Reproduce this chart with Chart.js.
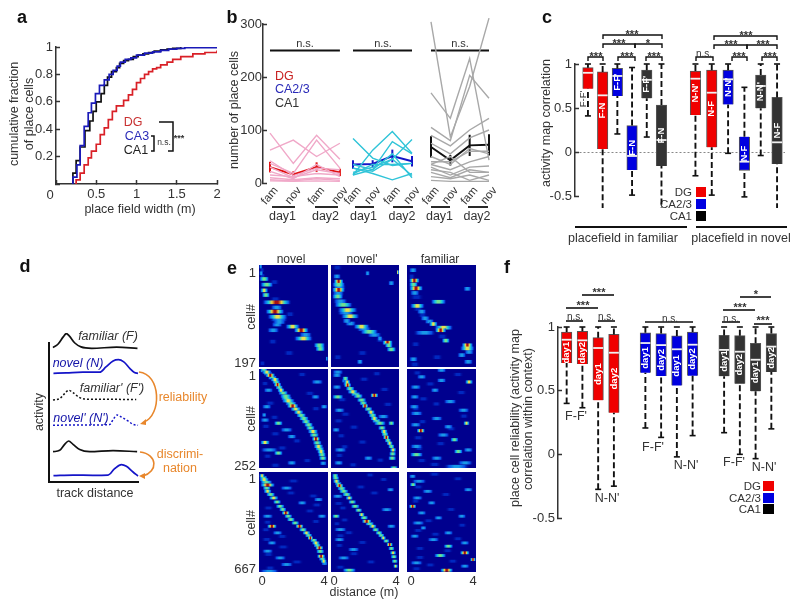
<!DOCTYPE html>
<html>
<head>
<meta charset="utf-8">
<style>
  html, body { margin: 0; padding: 0; background: #fff; }
  #page { position: relative; width: 800px; height: 607px; overflow: hidden; filter: blur(0.35px); }
  canvas { position: absolute; }
  canvas.heat { filter: blur(0.6px); }
  #overlay { position: absolute; left: 0; top: 0; pointer-events: none; }
  #overlay text { font-family: "Liberation Sans", Arial, sans-serif; fill: #333; }
</style>
</head>
<body>
<div id="page"><svg id="overlay" width="800" height="607" xmlns="http://www.w3.org/2000/svg"></svg></div>
<script src="https://cdn.jsdelivr.net/npm/chart.js@4"></script>
<script>
// a: cumulative fraction
const cdfRedX = [0.25,0.3,0.35,0.4,0.44,0.5,0.55,0.6,0.65,0.7,0.75,0.84,0.9,0.95,1,1.05,1.1,1.15,1.2,1.25,1.3,1.38,1.45,1.55,1.7,1.85,2];
const cdfRedY = [0.03,0.08,0.14,0.19,0.24,0.29,0.36,0.41,0.47,0.53,0.57,0.61,0.65,0.69,0.74,0.77,0.8,0.82,0.84,0.85,0.87,0.89,0.91,0.93,0.95,0.96,0.975];
const cdfBlueX = [0.21,0.26,0.3,0.35,0.4,0.44,0.49,0.54,0.6,0.66,0.71,0.76,0.8,0.86,0.93,1,1.1,1.2,1.3,1.4,1.5,1.6,2];
const cdfBlueY = [0.05,0.14,0.28,0.42,0.52,0.59,0.66,0.72,0.76,0.8,0.83,0.86,0.89,0.91,0.92,0.94,0.955,0.965,0.975,0.985,0.99,0.995,0.995];
const cdfBlackX = [0.21,0.25,0.3,0.36,0.42,0.46,0.5,0.56,0.6,0.64,0.69,0.75,0.79,0.84,0.9,0.96,1.02,1.08,1.15,1.22,1.3,1.38,1.45,1.55];
const cdfBlackY = [0.08,0.17,0.27,0.39,0.46,0.53,0.6,0.66,0.72,0.78,0.82,0.85,0.88,0.9,0.91,0.93,0.94,0.95,0.96,0.97,0.98,0.985,0.99,1];

// b: number of place cells per session
const sessionLabels = ["fam", "nov", "fam", "nov"];
const dgAnimals = [[94,37,90,45],[62,81,50,75],[37,18,81,28],[42,14,28,25],[30,10,25,18],[15,12,18,15],[10,6,10,8],[6,4,8,5],[4,3,4,3],[22,8,35,12]];
const dgMean = [30,16,30,20];
const dgErr = [10,6,9,7];
const ca3Animals = [[84,47,33,37],[15,62,97,56],[15,25,78,55],[28,18,6,18],[20,30,45,82],[17,35,35,37],[35,25,55,10],[28,22,45,14]];
const ca3Mean = [35,36,51,41];
const ca3Err = [8,7,12,10];
const ca1Animals = [[304,87,182,311],[170,122,235,43],[105,80,203,160],[90,70,100,122],[75,55,85,100],[50,35,65,55],[40,40,60,60],[35,25,40,50],[30,15,30,32],[25,20,5,15],[20,10,25,20],[12,8,15,5],[5,3,3,3],[35,50,20,20]];
const ca1Mean = [68,43,71,72];
const ca1Err = [20,10,20,20];

// c: activity map correlation boxes
const corrLabels = ["", "F-N", "F-F'", "F-N", "F-F'", "F-N", "N-N'", "N-F", "N-N'", "N-F", "N-N'", "N-F"];
const corrLow = [0.41,-0.65,0.205,-0.49,0.17,-0.8,-0.27,-0.49,-0.015,-0.51,-0.04,-0.65];
const corrQ1 = [0.72,0.034,0.636,-0.205,0.61,-0.16,0.42,0.053,0.54,-0.21,0.496,-0.136];
const corrMed = [0.9,0.644,0.864,-0.045,0.82,0.136,0.833,0.674,0.826,-0.11,0.75,0.11];
const corrQ3 = [0.958,0.91,0.95,0.3,0.93,0.534,0.92,0.93,0.93,0.174,0.875,0.62];
const corrHigh = [1,1,1,0.96,1,1,1,1,1,0.735,1,1];
const corrColors = ["#f00000","#f00000","#0000e0","#0000e0","#333333","#333333","#f00000","#f00000","#0000e0","#0000e0","#333333","#333333"];

// d: schematic tuning curves
const curveF = [[4.5,96.7],[10,99.1],[16,104.4],[19.5,106.8],[23,104.9],[29,100],[36,97.2],[48,96.2],[76,97],[99.4,96.2]];
const curveN = [[5,78.2],[19.5,78.5],[38,79],[57,79],[64,82.8],[72,87.1],[78,88],[84,86.4],[91,81.6],[96,78.7],[100,78.2]];
const curveF2 = [[4.5,59],[12,60],[17.6,63.6],[22,66],[27,64.3],[34.5,60.7],[45.7,59.5],[68,59.5],[98,59.3]];
const curveN2 = [[4.5,40.8],[27,41],[49.4,41],[68,41.3],[72.7,45.6],[76.4,48.2],[81.3,46.8],[88.8,43.9],[94.4,41.5],[100,40.8]];
const curveF3 = [[4.5,21.8],[12,22.8],[17.6,27.1],[22,29.5],[27,27.1],[34.5,23.3],[45.7,21.8],[72,22.6],[99,21.8]];
const curveN3 = [[5,4.6],[27,5],[49.4,4.8],[66.3,5],[73.8,9.6],[81.3,12.5],[87,11.3],[94.4,7.2],[100,4.3]];

// e: heat map streaks, [cell, start m, end m, level]
const heatDgNovel = [[10,0,0.35,0],[21,0,0.4,0],[33,0.6,1.2,0],[66,0.6,1.3,0],[95,1.5,2.1,0],[105,0.6,1.7,1],[115,0.7,1.4,1],[135,2.3,3.1,1],[148,0.5,1.1,0],[170,1.4,2.1,0],[190,0,0.4,0],[3,0,0.2,1],[16,0,0.25,1],[27,0,0.6,2],[38,0.05,0.85,2],[49,0.05,0.55,3],[58,0.15,0.65,2],[72,0.15,1.9,4],[82,0.65,1.4,1],[90,0.35,1.5,4],[100,0.45,1.7,3],[110,0.75,1.6,1],[119,1.5,2.4,3],[126,2,2.9,4],[142,2,3.15,3],[155,3.15,3.85,2],[162,3.25,3.85,2],[181,3.85,4,1],[126,0.45,1.2,1]];
const heatDgNovel2 = [[5,0.05,0.7,0],[22,0.1,0.6,1],[43,0.1,0.9,1],[55,0.05,0.8,1],[70,0.1,1,1],[92,0.35,1.4,1],[113,0.8,1.5,1],[124,1.5,2.4,1],[135,2.1,3,1],[145,2.6,3.2,0],[170,1.5,2.2,0],[178,0.1,0.7,0],[32,0.15,0.75,4],[38,0.05,0.85,2],[48,0.05,0.85,4],[61,0.05,0.75,2],[77,0.15,1.3,2],[87,0.35,1.6,3],[99,0.55,1.7,3],[108,0.65,1.2,1],[119,1.3,2.3,3],[129,1.7,2.8,2],[150,3,3.65,4],[155,3.15,3.65,2],[163,3.25,3.85,2],[16,2,2.3,1],[35,3.35,3.75,1],[187,1.5,1.9,1],[142,2.7,3.05,1],[14,3.85,4,3]];
const heatDgFamiliar = [[10,0.1,0.6,1],[22,0.05,0.5,0],[62,0.1,1,0],[85,0.3,1,0],[97,0.6,1.2,0],[109,1,1.6,1],[138,1.7,2.4,0],[153,0.2,0.8,0],[168,3.3,3.9,1],[178,1.4,2.1,0],[192,0.1,0.8,0],[30,0.1,0.75,4],[38,0.1,0.65,2],[45,0.1,0.95,4],[54,0.15,0.75,1],[71,1.35,2.3,2],[79,0.15,1.05,3],[90,0.55,1.15,1],[103,0.75,1.35,1],[114,1.25,1.8,3],[121,1.55,2.7,3],[126,1.6,2.3,4],[131,0.35,1.7,1],[146,2,2.5,2],[155,3.15,3.85,4],[161,3.05,3.95,3],[174,2.9,3.45,1],[182,0.1,0.65,1],[46,3.25,3.75,1],[187,3.25,3.85,1]];
const heatCa3Novel = [[14,2.2,2.8,0],[37,0.1,0.6,0],[62,2.6,3.3,0],[87,0.3,1,0],[101,3,3.6,0],[123,0.6,1.2,0],[146,0.1,0.7,0],[165,0.6,1.3,0],[183,1.9,2.5,0],[201,1,1.7,0],[222,0.2,0.8,0],[233,2.5,3.1,0],[245,0.6,1.3,0],[4,0.05,0.5,2],[12,0.25,0.8,2],[22,0.5,1.05,2],[33,0.75,1.25,2],[47,0.95,1.4,2],[61,1.1,1.7,2],[75,1.25,1.95,2],[88,1.5,2.2,2],[102,1.8,2.45,3],[118,2.15,2.75,2],[134,2.45,3,2],[150,2.7,3.25,2],[168,2.9,3.5,2],[188,3.1,3.65,2],[203,3.25,3.8,2],[218,3.4,3.9,2],[240,3.5,3.95,1],[8,0.15,0.75,3],[16,0.35,0.95,4],[27,0.65,1.2,3],[40,0.85,1.3,4],[54,1.05,1.5,3],[69,1.2,1.9,2],[81,1.3,2.1,3],[94,1.6,2.3,4],[110,2,2.6,3],[126,2.3,2.9,2],[142,2.6,3.15,2],[159,2.8,3.45,3],[178,3.05,3.55,4],[197,3.15,3.75,3],[210,3.35,3.85,3],[227,3.45,3.95,2],[54,0.25,0.85,1],[96,0.15,0.75,1],[117,0.15,0.45,1],[155,1.2,2,1],[187,0.05,0.65,3],[206,0.05,1.15,1],[239,1.6,2.2,1],[130,0.05,0.65,1],[172,1.6,2.2,1],[71,3,3.55,1],[33,3,3.75,1],[96,3.55,4,1],[214,0.85,1.4,2],[138,0.85,1.4,2]];
const heatCa3Novel2 = [[12,2.4,3,0],[26,1.6,2.3,0],[52,2.8,3.5,0],[78,0.3,1,0],[90,3,3.7,0],[115,0.5,1.2,0],[132,0.1,0.8,0],[148,1,1.7,0],[170,0.3,0.9,0],[186,1.5,2.2,0],[198,0.5,1.1,0],[220,0.2,0.8,0],[232,2.6,3.2,0],[244,1,1.6,0],[30,0.6,1,1],[37,0.7,1.15,2],[50,0.85,1.4,2],[64,1.15,1.75,2],[87,1.65,2.15,2],[102,1.95,2.45,2],[118,2.2,2.7,2],[132,2.4,2.95,2],[150,2.75,3.25,2],[166,2.95,3.4,2],[182,3.15,3.55,2],[197,3.35,3.75,2],[216,3.4,3.85,2],[24,0.65,1.05,2],[33,0.75,1.15,3],[41,0.75,1.2,4],[58,0.95,1.6,3],[69,1.3,1.9,2],[79,1.5,2.1,2],[94,1.8,2.2,4],[110,2.1,2.6,3],[126,2.3,2.8,3],[138,2.5,3.25,2],[159,2.9,3.35,3],[174,3.05,3.45,4],[189,3.25,3.65,3],[206,3.45,3.85,3],[227,3.35,3.85,2],[8,0.05,0.75,1],[16,0.05,0.65,1],[46,0.05,0.65,1],[71,0.05,0.75,2],[105,0.15,0.85,1],[121,2.7,3.45,1],[155,0.05,0.55,1],[206,0.15,0.95,1],[239,0.15,0.75,1],[252,3.45,3.95,2],[227,1.9,2.5,1],[67,2.3,2.8,4],[138,3.35,3.75,2]];
const heatCa3Familiar = [[10,0.3,0.9,0],[14,2.6,3.3,0],[38,1,1.7,0],[60,2.8,3.5,0],[76,0.6,1.3,0],[89,1.4,2,0],[101,0.2,0.8,0],[120,3,3.6,0],[134,0.6,1.2,0],[152,2.2,2.9,0],[175,0.3,1,0],[190,1.6,2.3,0],[202,0.4,1,0],[233,0.5,1.2,0],[243,1.2,2,0],[20,0.55,1.15,1],[29,1.7,2.3,1],[33,3.35,3.85,3],[46,0.15,0.85,1],[54,1.35,1.9,1],[71,0.15,0.75,1],[83,2.1,2.9,1],[96,0.1,0.75,1],[113,0.15,0.95,1],[126,1.35,2.1,1],[138,3.25,3.65,3],[142,0.15,0.85,1],[157,0.55,1.05,4],[168,1.7,2.5,1],[180,2.5,3,2],[197,0.15,0.95,1],[210,2.7,3.25,2],[206,3.25,3.85,1],[227,1.35,2.1,1],[248,2.1,3.65,1],[3,1.7,2.3,1],[105,2.9,3.65,1],[147,2.1,2.7,1],[218,0.15,0.95,2],[239,2.9,3.85,1]];
const heatCa1Novel = [[60,1.6,2.4,0],[140,1.5,2.2,0],[160,2.8,3.5,0],[240,0.2,0.9,0],[260,2.6,3.3,0],[335,0.2,0.8,0],[385,0.1,0.7,0],[430,1,1.7,0],[450,0.1,0.8,0],[500,1,1.8,0],[550,0.2,0.9,0],[600,1.8,2.6,0],[640,0.3,1,0],[220,3,3.7,0],[330,3,3.6,0],[38,0,0.5,2],[68,0.05,0.8,2],[108,0.2,0.7,2],[150,0.4,0.95,2],[200,0.8,1.3,2],[250,1.15,1.6,2],[295,1.45,1.95,2],[340,1.85,2.35,2],[385,2.3,2.8,2],[423,2.65,3.1,2],[456,2.95,3.4,2],[490,3.15,3.6,2],[530,3.3,3.8,2],[580,3.45,3.9,2],[610,3.6,4,1],[24,0,0.35,3],[51,0,0.6,3],[87,0.05,0.95,4],[129,0.25,0.75,3],[173,0.55,1.15,3],[229,0.95,1.5,2],[273,1.3,1.8,4],[317,1.6,2.1,2],[362,2.1,2.6,4],[406,2.5,3,3],[440,2.8,3.15,4],[473,3.05,3.55,3],[506,3.25,3.75,4],[562,3.35,3.85,4],[595,3.55,3.95,3],[107,1.2,2,1],[184,3.15,3.75,1],[295,0.15,0.85,1],[362,0.45,1.05,4],[406,0.75,1.4,1],[473,0.45,1.05,1],[528,0.15,0.85,1],[617,1.2,2,1],[662,0,1.2,1],[206,2.2,2.8,1],[295,3.35,3.95,1],[573,0.85,1.6,1]];
const heatCa1Novel2 = [[20,2,2.6,0],[50,2.8,3.4,0],[100,1.4,2.1,0],[140,2.2,2.9,0],[210,0.1,0.8,0],[240,0.4,1,0],[320,0.5,1.1,0],[345,0.1,0.6,0],[405,0.7,1.4,0],[425,0.2,0.9,0],[470,1.5,2.2,0],[490,0.2,0.8,0],[545,1,1.7,0],[600,2,2.7,0],[635,0.2,0.9,0],[40,0.05,0.5,2],[78,0.2,0.65,2],[110,0.35,0.9,2],[150,0.65,1.2,2],[200,1,1.5,2],[255,1.4,1.85,2],[305,1.7,2.2,2],[345,2,2.55,2],[385,2.4,2.85,2],[423,2.75,3.15,2],[460,3.05,3.45,2],[510,3.35,3.75,2],[565,3.5,3.9,2],[24,0.05,0.45,2],[62,0.1,0.55,3],[91,0.25,0.75,4],[129,0.45,1.05,2],[173,0.85,1.3,3],[229,1.15,1.7,2],[284,1.6,2,3],[329,1.8,2.4,4],[362,2.2,2.7,3],[406,2.6,3.05,2],[440,2.9,3.25,3],[484,3.25,3.65,4],[539,3.45,3.85,3],[595,3.55,3.95,2],[628,3.65,3.95,3],[118,3.25,3.75,1],[162,0.05,0.75,1],[295,0.05,0.55,2],[384,0.15,0.95,1],[451,0.15,0.85,1],[517,0.95,1.7,1],[573,0.35,1.15,1],[655,0.65,1.5,2],[251,2.9,3.65,1],[362,3.25,3.85,1]];
const heatCa1Familiar = [[15,1.2,2,0],[45,2.6,3.3,0],[100,0.3,1,0],[150,1.9,2.6,0],[195,0.2,0.8,0],[250,2.2,2.9,0],[325,0.9,1.6,0],[355,2.9,3.5,0],[390,0.3,1,0],[415,1.3,2,0],[445,2.6,3.3,0],[510,0.4,1.1,0],[525,2,2.7,0],[570,0.4,1.1,0],[595,2.3,3,0],[620,1,1.7,0],[645,0.2,0.9,0],[29,0.1,0.55,1],[62,0.25,1.15,1],[84,0.15,0.55,2],[129,0.85,1.55,1],[173,0.25,0.95,1],[229,0.1,0.55,4],[206,1.15,1.7,1],[273,0.55,1.15,1],[306,1.55,2.1,1],[340,0.25,1.05,1],[373,0.75,1.15,1],[406,2.1,2.7,1],[428,0.15,0.75,1],[473,3.05,3.65,1],[495,2.1,2.7,2],[539,3.05,3.65,4],[557,1.55,2.3,2],[584,3.65,4,4],[606,0.15,0.95,1],[655,1.9,2.7,4],[628,3.05,3.65,1],[451,1.15,1.9,1],[295,2.9,3.45,1],[118,3.25,3.85,1]];

// f: reliability boxes
const reliLabels = ["day1","day2","day1","day2","day1","day2","day1","day2","day1","day2","day1","day2"];
const reliLow = [0.4,0.366,-0.275,-0.25,0.207,0.133,-0.02,0.147,0.17,0,-0.034,0.2];
const reliQ1 = [0.717,0.71,0.424,0.327,0.64,0.615,0.54,0.618,0.613,0.555,0.495,0.647];
const reliMed = [0.9,0.895,0.835,0.798,0.874,0.858,0.825,0.861,0.82,0.806,0.743,0.846];
const reliQ3 = [0.96,0.966,0.916,0.942,0.955,0.948,0.93,0.96,0.934,0.932,0.872,0.948];
const reliHigh = [1,1,1,1,1,1,1,1,1,1,1,1];
const reliColors = ["#f00000","#f00000","#f00000","#f00000","#0000e0","#0000e0","#0000e0","#0000e0","#333333","#333333","#333333","#333333"];

Chart.defaults.font.family = '"Liberation Sans", Arial, sans-serif';
Chart.defaults.font.size = 13;
Chart.defaults.color = "#333";
Chart.defaults.animation = false;
Chart.defaults.responsive = false;
Chart.defaults.plugins.legend.display = false;
Chart.defaults.plugins.tooltip.enabled = false;

const page = document.querySelector("#page");
const overlay = document.querySelector("#overlay");
const AXIS = "#333";
const TEXT_SIZE = 12.5;

// chart box is the plot area in page pixels, the margins hold the axes
const addChart = (box, margin, config, className) => {
  const canvas = document.createElement("canvas");
  canvas.width = box.w + margin.l + margin.r;
  canvas.height = box.h + margin.t + margin.b;
  canvas.style.left = box.x - margin.l + "px";
  canvas.style.top = box.y - margin.t + "px";
  if (className) canvas.className = className;
  page.appendChild(canvas);
  config.options.layout = { padding: { top: margin.t, right: margin.r, left: 0, bottom: 0 } };
  const fitTo = (scale, size) => {
    scale.afterFit = (s) => {
      if (s.axis === "x") s.height = size; else s.width = size;
      s.paddingLeft = s.paddingRight = s.paddingTop = s.paddingBottom = 0;
    };
  };
  fitTo(config.options.scales.x, margin.b);
  fitTo(config.options.scales.y, margin.l);
  return new Chart(canvas, config);
};

const hiddenAxis = (min, max) => ({
  type: "linear", min, max, offset: false,
  ticks: { display: false }, grid: { display: false }, border: { display: false },
});

const inwardAxis = (min, max, step, extra) => ({
  type: "linear", min, max, offset: false,
  ticks: { stepSize: step, padding: 7, autoSkip: false, ...(extra || {}) },
  grid: { drawOnChartArea: false, tickLength: -4, tickColor: AXIS, tickWidth: 1.5 },
  border: { color: AXIS, width: 1.5 },
});

const toPoints = (xs, ys) => xs.map((x, i) => ({ x, y: ys[i] }));

// svg text and line helpers
const svgNode = (name, attrs, text) => {
  const node = document.createElementNS("http://www.w3.org/2000/svg", name);
  Object.keys(attrs).forEach((k) => node.setAttribute(k, attrs[k]));
  if (text !== undefined) node.textContent = text;
  overlay.appendChild(node);
  return node;
};

const label = (x, y, text, opts = {}) => {
  const attrs = {
    x, y,
    "text-anchor": opts.anchor || "middle",
    "dominant-baseline": "central",
    "font-size": opts.size || TEXT_SIZE,
  };
  if (opts.rotate) attrs.transform = `rotate(${opts.rotate} ${x} ${y})`;
  if (opts.bold) attrs["font-weight"] = "bold";
  if (opts.italic) attrs["font-style"] = "italic";
  const node = svgNode("text", attrs, text);
  node.style.fill = opts.color || "#333";
};

const stroke = (d, width, color) => svgNode("path", { d, fill: "none", stroke: color || "#111", "stroke-width": width });

// ---- a ----
const cdfLine = (xs, ys, color) => ({
  data: [{ x: xs[0], y: 0 }, ...toPoints(xs, ys)],
  borderColor: color, borderWidth: 1.7, pointRadius: 0, stepped: true,
});
addChart({ x: 56, y: 47, w: 161, h: 137 }, { l: 50, r: 10, t: 10, b: 22 }, {
  type: "line",
  data: { datasets: [cdfLine(cdfRedX, cdfRedY, "#d92027"), cdfLine(cdfBlueX, cdfBlueY, "#1a1ab8"), cdfLine(cdfBlackX, cdfBlackY, "#111")] },
  options: {
    scales: {
      x: inwardAxis(0, 2, 0.5, { callback: (v) => (v === 0 ? "" : v), maxRotation: 0 }),
      y: inwardAxis(0, 1, 0.2, { callback: (v) => (v === 0 ? "" : Number(v.toFixed(1))) }),
    },
  },
});

// ---- b ----
const sessionAxis = (min, max) => ({
  type: "linear", min, max, offset: false,
  afterBuildTicks: (s) => { s.ticks = [0, 1, 2, 3].map((value) => ({ value })); },
  ticks: {
    autoSkip: false, minRotation: 50, maxRotation: 50, padding: -7, labelOffset: 6,
    font: { size: 11.5 }, callback: (v) => sessionLabels[v],
  },
  grid: { display: false }, border: { display: false },
});

const animalChart = (box, xMin, xMax, animals, mean, err, faint, strong, yAxis) => {
  const datasets = animals.map((row) => ({
    data: row.map((y, x) => ({ x, y })), borderColor: faint, borderWidth: 1.4, pointRadius: 0,
  }));
  datasets.push({ data: mean.map((y, x) => ({ x, y })), borderColor: strong, borderWidth: 2, pointRadius: 0 });
  mean.forEach((y, x) => {
    datasets.push({ data: [{ x, y: y - err[x] }, { x, y: y + err[x] }], borderColor: strong, borderWidth: 2, pointRadius: 0 });
  });
  datasets.push({ data: [{ x: 0, y: 250 }, { x: 3, y: 250 }], borderColor: "#111", borderWidth: 2, pointRadius: 0 });
  datasets.forEach((d) => { d.clip = false; });
  addChart(box, { l: 30, r: 12, t: 10, b: 40 }, {
    type: "line",
    data: { datasets },
    options: {
      scales: {
        x: sessionAxis(xMin, xMax),
        y: yAxis ? inwardAxis(0, 300, 100, { padding: 5 }) : hiddenAxis(0, 300),
      },
    },
  });
};
animalChart({ x: 263, y: 24, w: 79, h: 159 }, -0.3, 3.09, dgAnimals, dgMean, dgErr, "#f0a8c8", "#e01010", true);
animalChart({ x: 353, y: 24, w: 59, h: 159 }, 0, 3, ca3Animals, ca3Mean, ca3Err, "#30c4d8", "#1414c8", false);
animalChart({ x: 431, y: 24, w: 58, h: 159 }, 0, 3, ca1Animals, ca1Mean, ca1Err, "#a8a8a8", "#111", false);

// ---- c and f box plots, built from floating bars ----
const boxTexts = (names, colorFor, shift) => ({
  id: "boxTexts",
  afterDatasetsDraw: (chart) => {
    const { ctx, scales } = chart;
    const bars = chart.data.datasets[0].data;
    ctx.save();
    ctx.font = 'bold 9.5px "Liberation Sans", Arial, sans-serif';
    ctx.textAlign = "center";
    ctx.textBaseline = "middle";
    bars.forEach((bar, i) => {
      ctx.save();
      ctx.translate(scales.x.getPixelForValue(bar.x), scales.y.getPixelForValue((bar.y[0] + bar.y[1]) / 2 + shift));
      ctx.rotate(-Math.PI / 2);
      ctx.fillStyle = colorFor;
      ctx.fillText(names[i], 0, 0);
      ctx.restore();
    });
    ctx.restore();
  },
});

const boxChart = (box, margin, yMin, step, slots, xMin, xMax, stats, zeroLine, plugin) => {
  const { low, q1, med, q3, high, colors } = stats;
  const whiskers = [];
  const caps = [];
  slots.forEach((x, i) => {
    whiskers.push({ x, y: q3[i] }, { x, y: high[i] }, { x, y: null }, { x, y: low[i] }, { x, y: q1[i] }, { x, y: null });
    caps.push({ x, y: low[i] }, { x, y: high[i] });
  });
  const yAxis = inwardAxis(yMin, 1, step, { callback: (v) => Number(v.toFixed(1)) });
  if (zeroLine) {
    yAxis.grid.drawOnChartArea = true;
    yAxis.grid.color = (c) => (c.tick && c.tick.value === 0 ? "#888" : "rgba(0,0,0,0)");
    yAxis.grid.lineWidth = 1;
    yAxis.border.dash = [2, 2];
  }
  addChart(box, margin, {
    type: "bar",
    data: {
      datasets: [
        {
          type: "bar", data: slots.map((x, i) => ({ x, y: [q1[i], q3[i]] })),
          backgroundColor: colors, borderColor: "#555", borderWidth: 1, barThickness: 10.5, grouped: false, order: 3,
        },
        { type: "line", data: whiskers, borderColor: "#111", borderWidth: 1.9, borderDash: [6, 3], pointRadius: 0, spanGaps: false, clip: false, order: 2 },
        { type: "line", data: caps, showLine: false, pointStyle: "line", pointRadius: 3, pointBorderColor: "#111", pointBorderWidth: 1.6, clip: false, order: 2 },
        { type: "line", data: slots.map((x, i) => ({ x, y: med[i] })), showLine: false, pointStyle: "line", pointRadius: 5, pointBorderColor: "#f0f0f0", pointBorderWidth: 1.8, order: 1 },
      ],
    },
    options: { scales: { x: hiddenAxis(xMin, xMax), y: yAxis } },
    plugins: [plugin],
  });
};

const corrSlots = corrLow.map((_, i) => (i < 6 ? i : 7.31 + (i - 6) * 1.11));
boxChart({ x: 575, y: 64, w: 210, h: 132 }, { l: 40, r: 8, t: 10, b: 12 }, -0.5, 0.5, corrSlots, -0.88, 13.4,
  { low: corrLow, q1: corrQ1, med: corrMed, q3: corrQ3, high: corrHigh, colors: corrColors }, true, boxTexts(corrLabels, "#fff", 0));

const reliSlots = reliLow.map((_, i) => i + Math.floor(i / 4));
boxChart({ x: 558, y: 327, w: 222, h: 191 }, { l: 40, r: 8, t: 10, b: 12 }, -0.5, 0.5, reliSlots, -0.55, 13.55,
  { low: reliLow, q1: reliQ1, med: reliMed, q3: reliQ3, high: reliHigh, colors: reliColors }, false, boxTexts(reliLabels, "#fff", -0.04));

// ---- d ----
const curveLine = (points, color, dash) => ({
  data: points.map(([x, y]) => ({ x, y })), borderColor: color, borderWidth: dash ? 1.5 : 1.7, borderDash: dash || [],
  pointRadius: 0, cubicInterpolationMode: "monotone", clip: false,
});
addChart({ x: 49, y: 343, w: 89, h: 139 }, { l: 4, r: 4, t: 10, b: 4 }, {
  type: "line",
  data: {
    datasets: [
      curveLine(curveF, "#111"), curveLine(curveN, "#1414c8"),
      curveLine(curveF2, "#111", [2, 2]), curveLine(curveN2, "#1414c8", [2, 2]),
      curveLine(curveF3, "#111"), curveLine(curveN3, "#1414c8"),
    ],
  },
  options: {
    scales: {
      x: { type: "linear", min: 0, max: 100, ticks: { display: false }, grid: { display: false }, border: { color: "#111", width: 2 } },
      y: { type: "linear", min: 0, max: 100, ticks: { display: false }, grid: { display: false }, border: { color: "#111", width: 2 } },
    },
  },
});

// ---- e ----
const HEAT_BACK = "rgba(0,0,142,0)";
const HEAT_RAMPS = [
  ["#0028c0"],
  ["#0850e8", "#1898e8"],
  ["#0a58f0", "#18c8e0", "#70e090"],
  ["#0a58f0", "#18c8e0", "#e8e050"],
  ["#0a58f0", "#18c8e0", "#e8d040", "#a81010"],
];
const heatFill = (ctx) => {
  if (!ctx.raw) return "#0a58f0";
  const scale = ctx.chart.scales.x;
  const x0 = scale.getPixelForValue(ctx.raw.x[0]);
  const x1 = scale.getPixelForValue(ctx.raw.x[1]);
  if (!Number.isFinite(x0) || !Number.isFinite(x1)) return "#0a58f0";
  const gradient = ctx.chart.ctx.createLinearGradient(x0, 0, Math.max(x1, x0 + 1), 0);
  const ramp = HEAT_RAMPS[ctx.raw.level];
  gradient.addColorStop(0, HEAT_BACK);
  ramp.forEach((color, i) => {
    const t = ((i + 1) / (ramp.length + 0.4)) * 0.5;
    gradient.addColorStop(t, color);
    gradient.addColorStop(1 - t, color);
  });
  gradient.addColorStop(1, HEAT_BACK);
  return gradient;
};
const heatPanel = (box, cells, thick, streaks) => {
  addChart(box, { l: 0, r: 0, t: 0, b: 0 }, {
    type: "bar",
    data: {
      datasets: [{
        data: streaks.map((s) => ({ y: s[0], x: [s[1], s[2]], level: s[3] })),
        backgroundColor: heatFill, barThickness: thick, grouped: false,
      }],
    },
    options: {
      indexAxis: "y",
      scales: { x: hiddenAxis(0, 4), y: { ...hiddenAxis(0, cells), reverse: true } },
    },
    plugins: [{
      id: "heatBack",
      beforeDatasetsDraw: (chart) => {
        const a = chart.chartArea;
        chart.ctx.fillStyle = "#00008e";
        chart.ctx.fillRect(a.left, a.top, a.right - a.left, a.bottom - a.top);
      },
    }],
  }, "heat");
};
const heatColumns = [{ x: 259, w: 69 }, { x: 331, w: 68 }, { x: 407, w: 69 }];
const heatRows = [{ y: 265, h: 102, cells: 197, thick: 3 }, { y: 369, h: 99, cells: 252, thick: 2.5 }, { y: 472, h: 100, cells: 667, thick: 2.2 }];
[
  [heatDgNovel, heatDgNovel2, heatDgFamiliar],
  [heatCa3Novel, heatCa3Novel2, heatCa3Familiar],
  [heatCa1Novel, heatCa1Novel2, heatCa1Familiar],
].forEach((rowSets, r) => {
  rowSets.forEach((streaks, c) => {
    heatPanel({ x: heatColumns[c].x, y: heatRows[r].y, w: heatColumns[c].w, h: heatRows[r].h }, heatRows[r].cells, heatRows[r].thick, streaks);
  });
});

// ---- text and annotation overlay ----
[["a", 22, 17], ["b", 232, 17], ["c", 547, 17], ["d", 25, 266], ["e", 232, 268], ["f", 507, 267]].forEach(([t, x, y]) => {
  label(x, y, t, { bold: true, size: 18, color: "#111" });
});

// a
label(14, 114, "cumulative fraction", { rotate: -90 });
label(29, 114, "of place cells", { rotate: -90 });
label(50, 194, "0", { size: 13 });
label(140, 209, "place field width (m)");
label(133, 122, "DG", { color: "#c83232" });
label(137, 136, "CA3", { color: "#2a2ab8" });
label(136, 150, "CA1", { color: "#222" });
stroke("M151,136 H154 V151 H151", 1.5);
stroke("M159,122 H173 V151 H168", 1.5);
label(164, 142, "n.s.", { size: 8.5 });
label(179, 138, "***", { size: 9, bold: true });

// b
label(234, 110, "number of place cells", { rotate: -90 });
label(275, 76, "DG", { anchor: "start", color: "#c82020" });
label(275, 89, "CA2/3", { anchor: "start", color: "#2a2ab8" });
label(275, 103, "CA1", { anchor: "start" });
label(305, 43, "n.s.", { size: 11 });
label(383, 43, "n.s.", { size: 11 });
label(460, 43, "n.s.", { size: 11 });
[[272, 295, "day1"], [315, 338, "day2"], [355, 374, "day1"], [393, 413, "day2"], [431, 450, "day1"], [468, 488, "day2"]].forEach(([x1, x2, t]) => {
  stroke(`M${x1},207 H${x2}`, 1.8);
  label((x1 + x2) / 2 - 1, 216, t);
});

// c
label(546, 123, "activity map correlation", { rotate: -90 });
label(582, 99, "F-F'", { rotate: -90, size: 9.5 });
const statBracket = (x1, x2, y, text, tx, ty) => {
  stroke(`M${x1},${y + 4} V${y} H${x2} V${y + 4}`, 1.4);
  if (text === "n.s.") label(tx, ty, text, { size: 10 });
  else label(tx, ty + 2, text, { size: 11, bold: true });
};
statBracket(603, 662, 35, "***", 632, 32);
statBracket(603, 635, 44, "***", 619, 41);
statBracket(635, 662, 44, "*", 648, 41);
statBracket(588, 603, 57, "***", 596, 54);
statBracket(618, 635, 57, "***", 627, 54);
statBracket(646, 662, 57, "***", 654, 54);
statBracket(714, 777, 36, "***", 746, 33);
statBracket(714, 747, 45, "***", 731, 42);
statBracket(747, 777, 45, "***", 763, 42);
statBracket(696, 713, 57, "n.s.", 704, 53);
statBracket(732, 747, 57, "***", 739, 54);
statBracket(762, 777, 57, "***", 770, 54);
const legendSwatch = (x, y, w, h, color) => svgNode("rect", { x, y, width: w, height: h, fill: color });
[["DG", 192, "#f00000"], ["CA2/3", 204, "#0000e0"], ["CA1", 216, "#000"]].forEach(([t, y, color]) => {
  label(692, y, t, { anchor: "end", size: 11.5 });
  legendSwatch(696, y - 5, 10, 10, color);
});
stroke("M575,227 H687", 1.8);
stroke("M696,227 H787", 1.8);
label(623, 238, "placefield in familiar");
label(741, 238, "placefield in novel");

// d
label(108, 336, "familiar (F)", { italic: true });
label(78, 363, "novel (N)", { italic: true, color: "#1414a8" });
label(112, 388, "familiar' (F')", { italic: true });
label(81, 418, "novel' (N')", { italic: true, color: "#1414a8" });
label(39, 412, "activity", { rotate: -90 });
label(95, 493, "track distance");
const ORANGE = "#e8872c";
label(183, 397, "reliability", { color: ORANGE });
label(180, 454, "discrimi-", { color: ORANGE });
label(180, 468, "nation", { color: ORANGE });
stroke("M139,372 C161,374 162,415 144,422", 1.6, ORANGE);
svgNode("polygon", { points: "140,424 146,419 146,425", fill: ORANGE });
stroke("M140,452 C158,454 158,472 143,476", 1.6, ORANGE);
svgNode("polygon", { points: "139,476 145,473 145,479", fill: ORANGE });

// e
label(291, 259, "novel", { size: 12 });
label(362, 259, "novel'", { size: 12 });
label(440, 259, "familiar", { size: 12 });
label(313, 277, "DG", { bold: true, size: 12, color: "#fff" });
label(310, 381, "CA3", { bold: true, size: 12, color: "#fff" });
label(309, 483, "CA1", { bold: true, size: 12, color: "#fff" });
[[272, "1"], [362, "197"], [375, "1"], [465, "252"], [478, "1"], [568, "667"]].forEach(([y, t]) => {
  label(256, y, t, { anchor: "end", size: 13 });
});
[317, 419, 523].forEach((y) => label(251, y, "cell#", { rotate: -90 }));
[[262, "0"], [324, "4"], [334, "0"], [396, "4"], [411, "0"], [473, "4"]].forEach(([x, t]) => label(x, 580, t, { size: 13 }));
label(364, 592, "distance (m)");

// f
label(515, 418, "place cell reliability (activity map", { rotate: -90 });
label(528, 419, "correlation within context)", { rotate: -90 });
[[576, 416, "F-F'"], [607, 498, "N-N'"], [653, 447, "F-F'"], [686, 465, "N-N'"], [734, 462, "F-F'"], [764, 467, "N-N'"]].forEach(([x, y, t]) => label(x, y, t));
const statLine = (x1, x2, y, text, tx, ty) => {
  stroke(`M${x1},${y} H${x2}`, 1.6);
  if (text === "n.s.") label(tx, ty, text, { size: 10 });
  else label(tx, ty + 2, text, { size: 11, bold: true });
};
statLine(582, 614, 295, "***", 599, 290);
statLine(566, 598, 308, "***", 583, 303);
statLine(566, 583, 321, "n.s.", 575, 316);
statLine(598, 615, 321, "n.s.", 606, 316);
statLine(645, 693, 322, "n.s.", 670, 318);
statLine(740, 771, 297, "*", 756, 292);
statLine(723, 755, 310, "***", 740, 305);
statLine(722, 740, 322, "n.s.", 731, 318);
statLine(754, 772, 324, "***", 763, 318);
[["DG", 486, "#f00000"], ["CA2/3", 498, "#0000e0"], ["CA1", 509, "#000"]].forEach(([t, y, color]) => {
  label(761, y, t, { anchor: "end", size: 11.5 });
  legendSwatch(763, y - 5, 11, 10, color);
});
</script>
</body>
</html>
